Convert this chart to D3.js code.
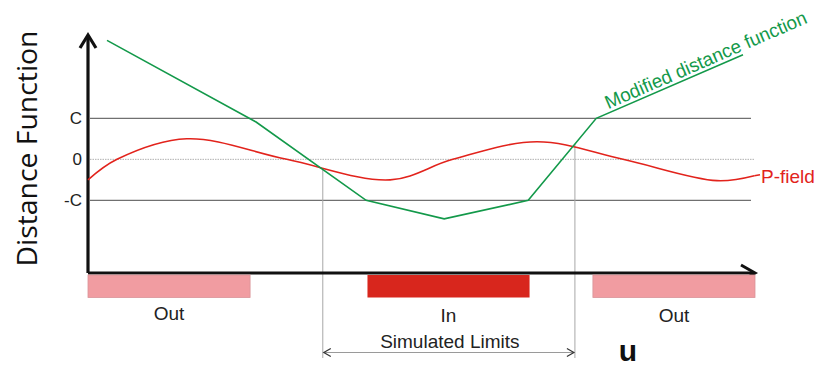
<!DOCTYPE html>
<meta charset="utf-8">
<head>
<style>
body { margin: 0; background: #fff; }
svg text { font-family: "Liberation Sans", Arial, sans-serif; }
</style>
</head>
<body>
<script src="https://cdnjs.cloudflare.com/ajax/libs/d3/7.8.5/d3.min.js"></script>
<script>
// ---------- data ----------
// u runs 0..100 along the axis, value: 0 = zero line, 1 = C, -1 = -C
var levels = [1, 0, -1];
var levelLabels = ["C", "0", "-C"];

var pfieldU   = [0, 4.35, 14.8, 29.8, 45.3, 54.7, 67.3, 80.2, 94.3, 99.9];
var pfieldVal = [-0.5, 0, 0.5, 0, -0.5, 0, 0.43, 0, -0.52, -0.4];

var modU   = [2.85, 25.2, 41.7, 53.4, 66.0, 76.2, 98.2];
var modVal = [2.9, 0.91, -1.0, -1.45, -1.0, 1.0, 2.55];

var zoneNames = ["Out", "In", "Out"];
var zoneStart = [0, 41.9, 75.7];
var zoneEnd   = [24.3, 66.2, 100];
var zoneColor = ["#f19ca1", "#d8261d", "#f19ca1"];

var limitU = [35.2, 73.0];

// ---------- scales ----------
var width = 818, height = 368;
var x = d3.scaleLinear().domain([0, 100]).range([88, 755]);
var y = d3.scaleLinear().domain([-2.77, 3.03]).range([273, 35]);

var svg = d3.select("body").append("svg")
    .attr("width", width)
    .attr("height", height);

var green = "#13994a", red = "#e2231c";

// ---------- level lines ----------
levels.forEach(function(v, i) {
    svg.append("line")
        .attr("x1", x(0) + 2).attr("x2", v === 0 ? x(99.9) : x(99.4))
        .attr("y1", y(v)).attr("y2", y(v))
        .attr("stroke", v === 0 ? "#b0b0b0" : "#707070")
        .attr("stroke-width", v === 0 ? 1 : 1.2)
        .attr("stroke-dasharray", v === 0 ? "1.5,1" : null);
    svg.append("text")
        .attr("x", 82).attr("y", y(v) + 6)
        .attr("text-anchor", "end")
        .attr("font-size", 17)
        .attr("fill", "#222")
        .text(levelLabels[i]);
});

// ---------- simulated limits ----------
var modData = modU.map(function(u, i) { return [u, modVal[i]]; });
function modAt(u) {
    for (var i = 1; i < modData.length; i++) {
        if (u <= modData[i][0]) {
            var a = modData[i - 1], b = modData[i];
            return a[1] + (b[1] - a[1]) * (u - a[0]) / (b[0] - a[0]);
        }
    }
    return modData[modData.length - 1][1];
}
limitU.forEach(function(u) {
    svg.append("line")
        .attr("x1", x(u)).attr("x2", x(u))
        .attr("y1", y(modAt(u))).attr("y2", 358)
        .attr("stroke", "#a8a8a8").attr("stroke-width", 1);
});
var ay = 352.5;
svg.append("line")
    .attr("x1", x(limitU[0]) + 1).attr("x2", x(limitU[1]) - 1)
    .attr("y1", ay).attr("y2", ay)
    .attr("stroke", "#9a9a9a").attr("stroke-width", 1.2);
svg.append("path")
    .attr("d", "M" + (x(limitU[0]) + 8) + "," + (ay - 4) + "L" + (x(limitU[0]) + 1) + "," + ay + "L" + (x(limitU[0]) + 8) + "," + (ay + 4)
        + "M" + (x(limitU[1]) - 8) + "," + (ay - 4) + "L" + (x(limitU[1]) - 1) + "," + ay + "L" + (x(limitU[1]) - 8) + "," + (ay + 4))
    .attr("fill", "none").attr("stroke", "#333").attr("stroke-width", 1.2);
svg.append("text")
    .attr("x", (x(limitU[0]) + x(limitU[1])) / 2 + 1).attr("y", 348)
    .attr("text-anchor", "middle")
    .attr("font-size", 19).attr("fill", "#222")
    .text("Simulated Limits");

// ---------- axes ----------
svg.append("path")
    .attr("d", "M" + x(0) + "," + y(-2.77) + "V" + 36)
    .attr("stroke", "#111").attr("stroke-width", 3.2).attr("fill", "none");
svg.append("path")
    .attr("d", "M80,48L88,35L96,48")
    .attr("stroke", "#111").attr("stroke-width", 3.2).attr("fill", "none");
svg.append("path")
    .attr("d", "M" + x(0) + "," + y(-2.77) + "H" + 754)
    .attr("stroke", "#111").attr("stroke-width", 3).attr("fill", "none");
svg.append("path")
    .attr("d", "M741,265L755,273L741,281")
    .attr("stroke", "#111").attr("stroke-width", 3).attr("fill", "none");

// ---------- zones ----------
zoneNames.forEach(function(n, i) {
    svg.append("rect")
        .attr("x", x(zoneStart[i])).attr("y", 275)
        .attr("width", x(zoneEnd[i]) - x(zoneStart[i])).attr("height", 22.5)
        .attr("fill", zoneColor[i])
        .attr("stroke", i === 1 ? "none" : "#d99398").attr("stroke-width", 0.8);
    svg.append("text")
        .attr("x", (x(zoneStart[i]) + x(zoneEnd[i])) / 2)
        .attr("y", i === 0 ? 320 : 322)
        .attr("text-anchor", "middle")
        .attr("font-size", 19).attr("fill", "#222")
        .text(n);
});

// ---------- curves ----------
var line = d3.line()
    .x(function(d) { return x(d[0]); })
    .y(function(d) { return y(d[1]); });

var pfield = pfieldU.map(function(u, i) { return [u, pfieldVal[i]]; });
svg.append("path")
    .attr("d", line.curve(d3.curveCatmullRom.alpha(0.5))(pfield))
    .attr("fill", "none").attr("stroke", red).attr("stroke-width", 1.6);
var last = pfield[pfield.length - 1];
svg.append("line")
    .attr("x1", x(last[0])).attr("x2", 760)
    .attr("y1", y(last[1])).attr("y2", y(last[1]) - 1)
    .attr("stroke", red).attr("stroke-width", 1.6);
svg.append("text")
    .attr("x", 761).attr("y", 183)
    .attr("font-size", 19).attr("fill", red)
    .text("P-field");

svg.append("path")
    .attr("d", line.curve(d3.curveLinear)(modData))
    .attr("fill", "none").attr("stroke", green).attr("stroke-width", 1.6);

// label along the last segment
var p0 = modData[modData.length - 2], p1 = modData[modData.length - 1];
var ang = Math.atan2(y(p1[1]) - y(p0[1]), x(p1[0]) - x(p0[0])) * 180 / Math.PI;
svg.append("text")
    .attr("transform", "translate(" + (x(p0[0]) + 12) + "," + (y(p0[1]) - 9) + ") rotate(" + ang + ")")
    .attr("font-size", 19)
    .attr("textLength", 218)
    .attr("lengthAdjust", "spacingAndGlyphs")
    .attr("fill", green)
    .text("Modified distance function");

// ---------- axis titles ----------
svg.append("text")
    .attr("transform", "translate(37,148.5) rotate(-90)")
    .attr("text-anchor", "middle")
    .attr("font-size", 28)
    .attr("textLength", 236)
    .attr("lengthAdjust", "spacingAndGlyphs")
    .attr("fill", "#111")
    .style("font-family", "'Open Sans', 'Noto Sans', sans-serif")
    .text("Distance Function");

svg.append("text")
    .attr("x", 628).attr("y", 361)
    .attr("text-anchor", "middle")
    .attr("font-size", 30).attr("font-weight", "bold").attr("fill", "#111")
    .text("u");
</script>
</body>
</html>
